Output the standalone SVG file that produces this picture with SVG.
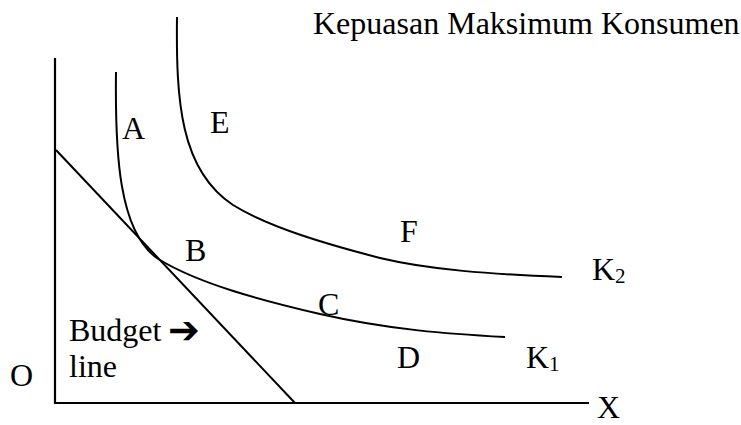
<svg xmlns="http://www.w3.org/2000/svg" width="741" height="425" viewBox="0 0 741 425">
<style>
.t{font-family:"Liberation Serif","Times New Roman",serif;font-size:32px;fill:#000}
.s{font-family:"Liberation Serif","Times New Roman",serif;font-size:21px;fill:#000}
.ln{fill:none;stroke:#000;stroke-width:2}
.ax{fill:none;stroke:#000;stroke-width:2.2}
</style>
<rect width="741" height="425" fill="#fff"/>
<text class="t" x="313" y="34">Kepuasan Maksimum Konsumen</text>
<g id="axes">
<path class="ax" d="M55,58 V403 H589"/>
<text class="t" x="10" y="386">O</text>
<text class="t" x="597" y="418">X</text>
</g>
<g id="connectors">
<path id="budget" class="ln" d="M56,150 L295,403"/>
<path id="K1curve" class="ln" d="M116,72 C115,150 118,235 160,260 C200,284 260,300 320,314 C390,330 450,334 505,337"/>
<path id="K2curve" class="ln" d="M177,17 C176,100 180,170 233,205 C270,228 330,245 380,258 C430,270 490,274 562,277"/>
</g>
<g id="labels">
<text class="t" x="122" y="139">A</text>
<text class="t" x="210" y="133">E</text>
<text class="t" x="185" y="261">B</text>
<text class="t" x="318" y="315">C</text>
<text class="t" x="400" y="242">F</text>
<text class="t" x="397" y="368">D</text>
<text class="t" x="592" y="280">K<tspan class="s" dy="3">2</tspan></text>
<text class="t" x="526" y="368">K<tspan class="s" dy="3">1</tspan></text>
</g>
<g id="budget-label">
<text class="t" x="69" y="341">Budget</text>
<text x="168" y="343" style="font-family:'DejaVu Sans',sans-serif;font-weight:bold;font-size:38px">➔</text>
<text class="t" x="69" y="377">line</text>
</g>
</svg>
